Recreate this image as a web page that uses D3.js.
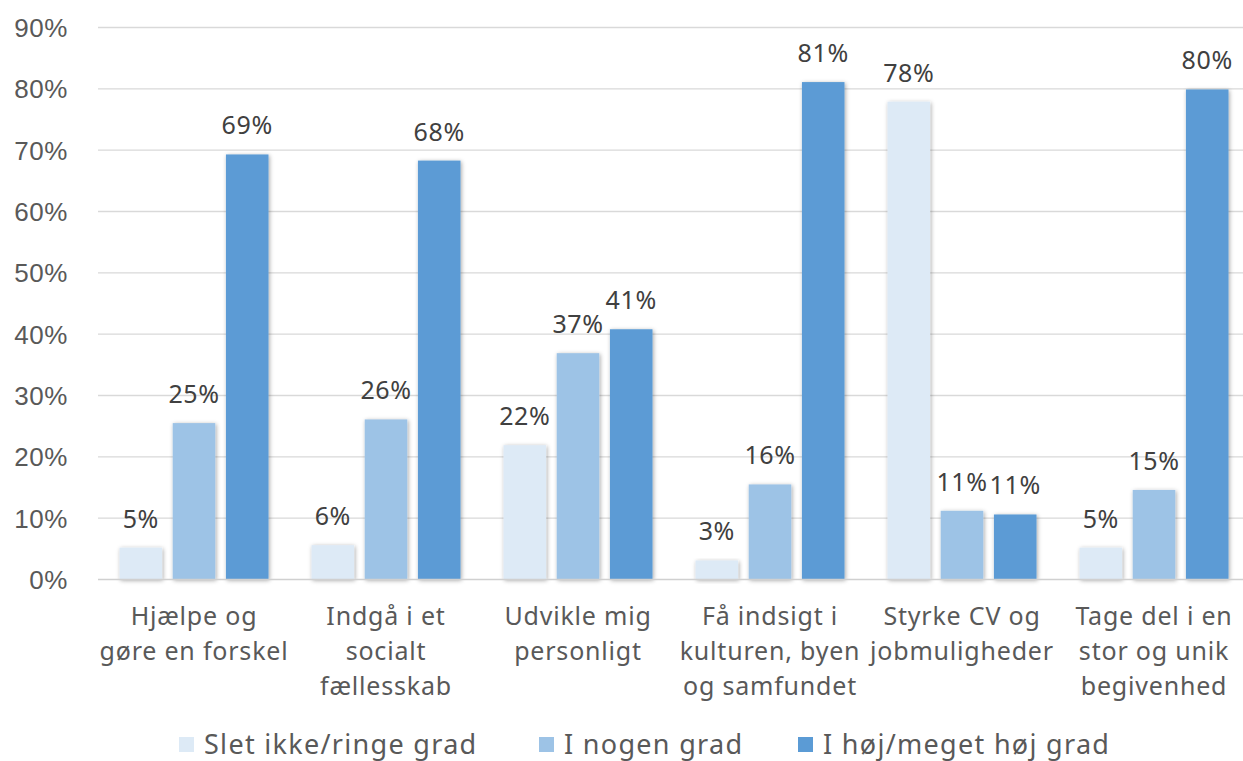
<!DOCTYPE html>
<html>
<head>
<meta charset="utf-8">
<script src="https://cdn.jsdelivr.net/npm/d3@7"></script>
<style>
  body { margin: 0; background: #fff; }
  svg { display: block; font-family: "Noto Sans", "DejaVu Sans", sans-serif; }
</style>
</head>
<body>
<svg id="chart" width="1243" height="761"></svg>
<script>
// data
const categories = [
  ["Hjælpe og", "gøre en forskel"],
  ["Indgå i et", "socialt", "fællesskab"],
  ["Udvikle mig", "personligt"],
  ["Få indsigt i", "kulturen, byen", "og samfundet"],
  ["Styrke CV og", "jobmuligheder"],
  ["Tage del i en", "stor og unik", "begivenhed"]
]
const seriesNames = ["Slet ikke/ringe grad", "I nogen grad", "I høj/meget høj grad"]
const sletIkke = [5.2, 5.6, 21.9, 3.1, 77.9, 5.2]
const iNogen = [25.5, 26.1, 36.9, 15.5, 11.2, 14.6]
const iHoej = [69.3, 68.3, 40.8, 81.1, 10.6, 79.9]
const labels = [
  ["5%", "6%", "22%", "3%", "78%", "5%"],
  ["25%", "26%", "37%", "16%", "11%", "15%"],
  ["69%", "68%", "41%", "81%", "11%", "80%"]
]
const yTicks = [0, 10, 20, 30, 40, 50, 60, 70, 80, 90]
const colors = ["#ddeaf6", "#9dc3e6", "#5b9bd5"]

const series = [sletIkke, iNogen, iHoej]

const svg = d3.select("#chart")
const defs = svg.append("defs")
const f = defs.append("filter").attr("id", "shadow")
  .attr("x", "-30%").attr("y", "-10%").attr("width", "160%").attr("height", "130%")
f.append("feDropShadow").attr("dx", 1).attr("dy", 1).attr("stdDeviation", 2)
  .attr("flood-color", "#000").attr("flood-opacity", 0.35)

let x0 = d3.scaleBand().domain(d3.range(categories.length)).range([98, 1250]).paddingInner(0).paddingOuter(0)
let x1 = d3.scaleBand().domain(d3.range(3)).range([21.5, 192 - 21.5]).paddingInner(0.2).paddingOuter(0)
let y = d3.scaleLinear().domain([0, 90]).range([579.5, 27.5])

// gridlines
svg.append("g").selectAll("line")
  .data(yTicks.slice(1))
  .enter().append("line")
  .attr("x1", 98).attr("x2", 1243)
  .attr("y1", d => y(d)).attr("y2", d => y(d))
  .attr("stroke", "#d9d9d9").attr("stroke-width", 1.3)

// y axis
let yAxis = d3.axisLeft(y).tickValues(yTicks).tickFormat(d => d + "%").tickSize(0).tickPadding(0)
let yg = svg.append("g").attr("transform", "translate(68,0)").call(yAxis)
yg.select(".domain").remove()
yg.selectAll("text").attr("font-size", 26).attr("letter-spacing", 0.6)
  .attr("font-family", null).attr("fill", "#595959").attr("dy", "0.34em")

// bars
let groups = svg.append("g").selectAll("g")
  .data(categories)
  .enter().append("g")
  .attr("transform", (d, i) => `translate(${x0(i)},0)`)

series.forEach((vals, s) => {
  groups.append("rect")
    .attr("x", x1(s))
    .attr("width", x1.bandwidth())
    .attr("y", (d, i) => y(vals[i]))
    .attr("height", (d, i) => y(0) - y(vals[i]))
    .attr("fill", colors[s])
    .attr("filter", "url(#shadow)")
})

// baseline
svg.append("line")
  .attr("x1", 98).attr("x2", 1243)
  .attr("y1", y(0)).attr("y2", y(0))
  .attr("stroke", "#d0d0d0").attr("stroke-width", 1.5)

// value labels
series.forEach((vals, s) => {
  groups.append("text")
    .attr("x", x1(s) + x1.bandwidth() / 2)
    .attr("y", (d, i) => y(vals[i]) - 20)
    .attr("text-anchor", "middle")
    .attr("font-size", 25)
    .attr("letter-spacing", 0.6)
    .attr("fill", "#404040")
    .text((d, i) => labels[s][i])
})

// category labels
groups.append("text")
  .attr("x", 96)
  .attr("y", 616)
  .attr("text-anchor", "middle")
  .attr("font-size", 25)
  .attr("letter-spacing", 0.8)
  .attr("fill", "#595959")
  .selectAll("tspan")
  .data(d => d)
  .enter().append("tspan")
  .attr("x", 96)
  .attr("dy", (d, i) => i === 0 ? "0.36em" : 35)
  .text(d => d)

// legend
const legendX = [179, 539, 798]
let legend = svg.append("g").selectAll("g")
  .data(seriesNames)
  .enter().append("g")
  .attr("transform", (d, i) => `translate(${legendX[i]},737)`)
legend.append("rect").attr("width", 15).attr("height", 15).attr("fill", (d, i) => colors[i])
legend.append("text")
  .attr("x", 25).attr("y", 7.5).attr("dy", "0.36em")
  .attr("font-size", 27)
  .attr("letter-spacing", 1.3)
  .attr("fill", "#595959")
  .text(d => d)
</script>
</body>
</html>
